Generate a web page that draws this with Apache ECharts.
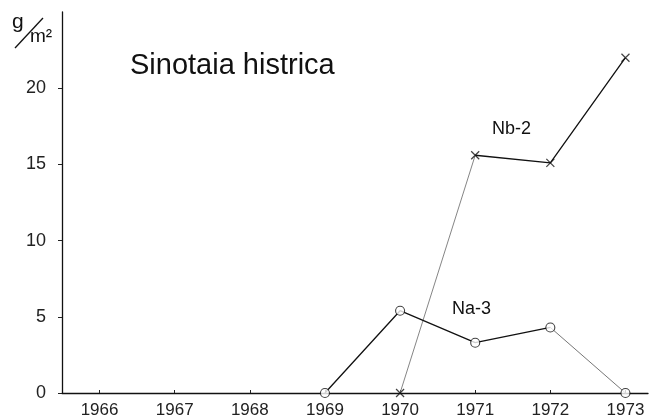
<!DOCTYPE html>
<html><head><meta charset="utf-8">
<script src="https://cdn.jsdelivr.net/npm/echarts@6/dist/echarts.min.js"></script>
<style>html,body{margin:0;padding:0;background:#fff}#c{width:651px;height:420px}</style>
</head><body><div id="c"></div>
<script>
const years = [1969, 1970, 1971, 1972, 1973];
const na3 = [0, 5.4, 3.3, 4.3, 0];
const nb2 = [null, 0, 15.6, 15.1, 22.0];
const xTicks = [1966, 1967, 1968, 1969, 1970, 1971, 1972, 1973];
const yTicks = [0, 5, 10, 15, 20];
const title = 'Sinotaia histrica';
const unitTop = 'g', unitBottom = 'm²';

const pairs = (ys) => years.map((y, i) => [y, ys[i]]).filter(p => p[1] !== null);
const na3Pts = pairs(na3);
const nb2Pts = pairs(nb2);
const font = 'Liberation Sans';
const xSym = 'path://M0,0L10,10M10,0L0,10';

const chart = echarts.init(document.getElementById('c'), null, {renderer: 'canvas'});
chart.setOption({
  animation: false,
  backgroundColor: '#fff',
  grid: {left: 62, right: 3, top: 12, bottom: 27},
  xAxis: {
    type: 'value', min: 1965.5, max: 1973.3,
    axisLine: {lineStyle: {color: '#111', width: 1.3}},
    axisTick: {show: true, length: 3, inside: true, customValues: xTicks, lineStyle: {color: '#222'}},
    axisLabel: {customValues: xTicks, margin: 9, color: '#222', fontFamily: font, fontSize: 17,
                formatter: v => String(v)},
    splitLine: {show: false}
  },
  yAxis: {
    type: 'value', min: 0, max: 25,
    axisLine: {show: true, lineStyle: {color: '#111', width: 1.3}},
    axisTick: {show: true, length: 4, customValues: yTicks, lineStyle: {color: '#222'}},
    axisLabel: {customValues: yTicks, margin: 16, color: '#222', fontFamily: font, fontSize: 18},
    splitLine: {show: false}
  },
  series: [
    {type: 'line', data: nb2Pts.slice(0, 2), symbol: 'none', silent: true,
     lineStyle: {color: '#777', width: 0.9}, z: 1},
    {type: 'line', data: na3Pts.slice(3, 5), symbol: 'none', silent: true,
     lineStyle: {color: '#666', width: 0.9}, z: 1},
    {type: 'line', name: 'Nb-2', data: nb2Pts.slice(1), symbol: 'none',
     lineStyle: {color: '#111', width: 1.3}, z: 2},
    {type: 'line', name: 'Na-3', data: na3Pts.slice(0, 4), symbol: 'none',
     lineStyle: {color: '#111', width: 1.3}, z: 2},
    {type: 'scatter', data: nb2Pts, symbol: xSym, symbolSize: 8,
     itemStyle: {color: 'transparent', borderColor: '#111', borderWidth: 1.2}, z: 3},
    {type: 'scatter', data: na3Pts, symbol: 'circle', symbolSize: 9,
     itemStyle: {color: '#fff', borderColor: '#111', borderWidth: 1.1}, z: 3}
  ],
  graphic: [
    {type: 'text', left: 130, top: 51, style: {text: title, font: '29px "Liberation Sans"', fill: '#111'}},
    {type: 'text', left: 492, top: 120, style: {text: 'Nb-2', font: '18px "Liberation Sans"', fill: '#111'}},
    {type: 'text', left: 452, top: 300, style: {text: 'Na-3', font: '18px "Liberation Sans"', fill: '#111'}},
    {type: 'text', left: 12, top: 12, style: {text: unitTop, font: '21px "Liberation Sans"', fill: '#111'}},
    {type: 'line', shape: {x1: 15, y1: 48, x2: 43, y2: 18}, style: {stroke: '#111', lineWidth: 1.3}},
    {type: 'text', left: 30, top: 27, style: {text: unitBottom, font: '19px "Liberation Sans"', fill: '#111'}}
  ]
});
</script></body></html>
